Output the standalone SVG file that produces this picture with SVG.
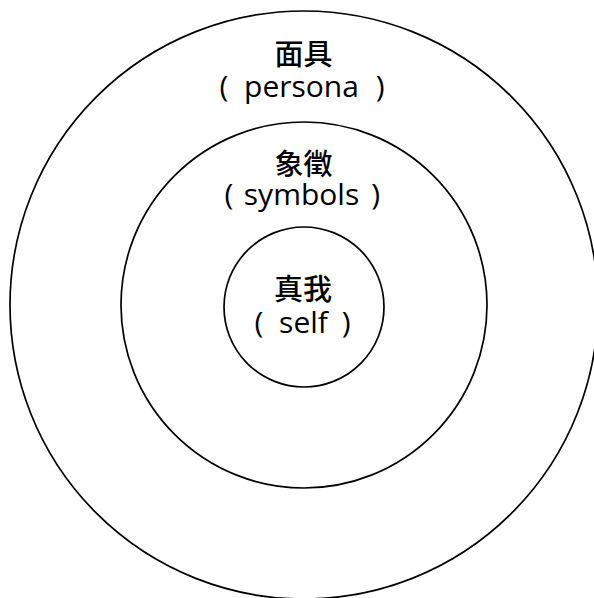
<svg xmlns="http://www.w3.org/2000/svg" width="594" height="598" viewBox="0 0 594 598">
  <style>
    .ring { fill: none; stroke: #000; stroke-width: 1.7; }
    .label { font-family: "Open Sans", "Noto Sans CJK SC", "DejaVu Sans", sans-serif; font-size: 30px; fill: #000; }
    .cjk { font-family: "Noto Sans CJK SC", "Noto Sans CJK TC", sans-serif; font-size: 29px; font-weight: 500; }
  </style>
  <rect width="594" height="598" fill="#fff"/>
  <g id="persona">
    <circle class="ring" cx="304" cy="305" r="294"/>
    <text class="label"><tspan class="cjk" x="303.5" y="65" text-anchor="middle">面具</tspan><tspan x="219.5" y="97">(</tspan><tspan x="301.5" y="97" text-anchor="middle">persona</tspan><tspan x="384.5" y="97" text-anchor="end">)</tspan></text>
  </g>
  <g id="symbols">
    <circle class="ring" cx="304" cy="305" r="183"/>
    <text class="label"><tspan class="cjk" x="303.5" y="174.5" text-anchor="middle">象徵</tspan><tspan x="224.5" y="205">(</tspan><tspan x="301.5" y="205" text-anchor="middle">symbols</tspan><tspan x="380" y="205" text-anchor="end">)</tspan></text>
  </g>
  <g id="self">
    <circle class="ring" cx="304" cy="307" r="80"/>
    <text class="label"><tspan class="cjk" x="303" y="300" text-anchor="middle">真我</tspan><tspan x="254.5" y="333">(</tspan><tspan x="303.5" y="333" text-anchor="middle">self</tspan><tspan x="350.5" y="333" text-anchor="end">)</tspan></text>
  </g>
</svg>
